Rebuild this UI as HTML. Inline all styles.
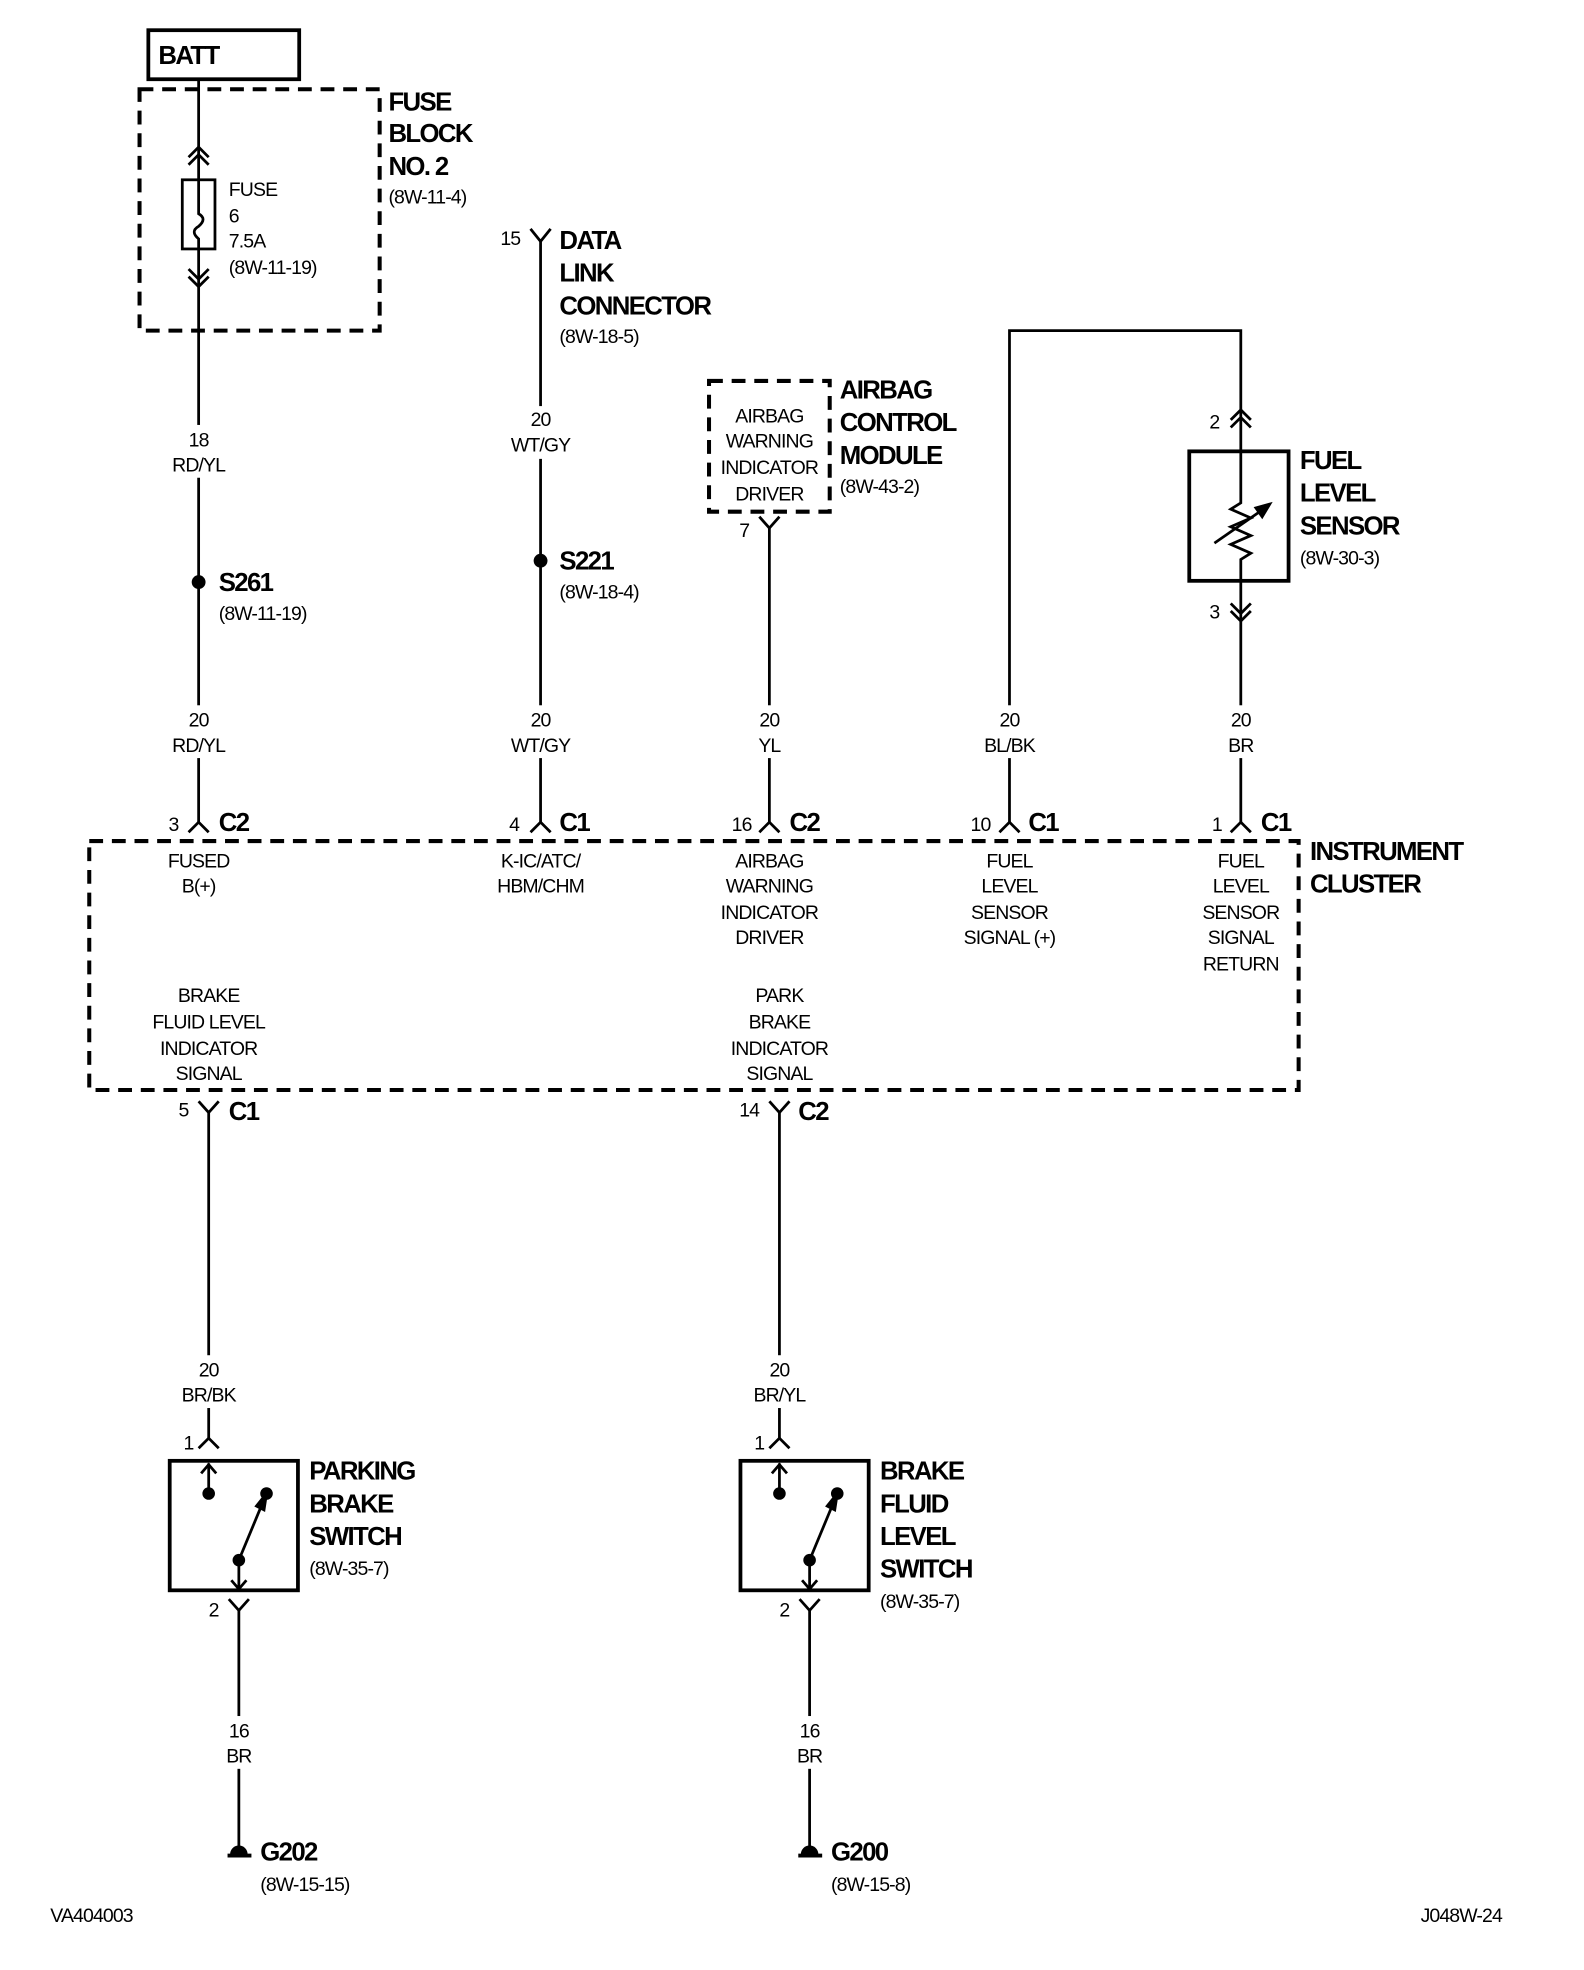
<!DOCTYPE html>
<html><head><meta charset="utf-8"><style>
html,body{margin:0;padding:0;background:#fff;}
svg{display:block;}
text{font-family:"Liberation Sans",Arial,sans-serif;fill:#000;}
.s{font-size:15.5px;letter-spacing:-0.7px;}
.b{font-size:20.5px;font-weight:bold;letter-spacing:-1.3px;}
.m{text-anchor:middle;}
</style></head><body>
<svg width="1584" height="1970" viewBox="0 0 1260 1567" xmlns="http://www.w3.org/2000/svg">
<g fill="none" stroke="#000" stroke-width="2.2">
<rect x="118" y="24" width="120" height="39" stroke-width="3"/>
<rect x="111" y="71" width="191" height="192" stroke-width="3.2" stroke-dasharray="11,7"/>
<line x1="158" y1="63" x2="158" y2="655"/>
<rect x="145" y="143" width="26" height="55" fill="#fff"/>
<path d="M158,143 V170 q7,4 0,10 q-7,4 0,10 V198"/>
<path d="M150,125 L158,117 L166,125 M150,131 L158,123 L166,131"/>
<path d="M150,214 L158,222 L166,214 M150,220 L158,228 L166,220"/>
<line x1="430" y1="192" x2="430" y2="655"/>
<path d="M422,182 L430,192 L438,182"/>
<rect x="564" y="303" width="96" height="104" stroke-width="3.2" stroke-dasharray="11,7"/>
<line x1="612" y1="420" x2="612" y2="655"/>
<path d="M604,411 L612,420 L620,411"/>
<path d="M803,655 V263 H987 V358"/>
<path d="M979,334 L987,326 L995,334 M979,340 L987,332 L995,340"/>
<rect x="946" y="359" width="79" height="103" stroke-width="3"/>
<path d="M987,359 V400 L979,405 L995,412 L979,419 L995,426 L979,433 L995,440 L987,445 V462"/>
<path d="M966,432 L1005,405"/>
<path d="M1010,401 L999,404 L1004,411 Z" fill="#000"/>
<line x1="987" y1="462" x2="987" y2="655"/>
<path d="M979,480 L987,488 L995,480 M979,486 L987,494 L995,486"/>
<path d="M150,662 L158,654 L166,662"/>
<path d="M422,662 L430,654 L438,662"/>
<path d="M604,662 L612,654 L620,662"/>
<path d="M795,662 L803,654 L811,662"/>
<path d="M979,662 L987,654 L995,662"/>
<rect x="71" y="669" width="962" height="198" stroke-width="3.2" stroke-dasharray="11,7"/>
<path d="M158,876 L166,885 L174,876"/>
<line x1="166" y1="885" x2="166" y2="1145"/>
<path d="M612,876 L620,885 L628,876"/>
<line x1="620" y1="885" x2="620" y2="1145"/>
<path d="M158,1152 L166,1144 L174,1152"/>
<rect x="135" y="1162" width="102" height="103" stroke-width="3"/>
<line x1="166" y1="1164" x2="166" y2="1188"/>
<path d="M160,1172 L166,1165 L172,1172"/>
<line x1="190" y1="1241" x2="212" y2="1188"/>
<path d="M212,1188 L204,1198 L210,1201 Z" fill="#000"/>
<line x1="190" y1="1241" x2="190" y2="1264"/>
<path d="M184,1257 L190,1264 L196,1257"/>
<path d="M182,1272 L190,1281 L198,1272"/>
<line x1="190" y1="1281" x2="190" y2="1470"/>
<line x1="181" y1="1476" x2="200" y2="1476" stroke-width="3"/>
<path d="M612,1152 L620,1144 L628,1152"/>
<rect x="589" y="1162" width="102" height="103" stroke-width="3"/>
<line x1="620" y1="1164" x2="620" y2="1188"/>
<path d="M614,1172 L620,1165 L626,1172"/>
<line x1="644" y1="1241" x2="666" y2="1188"/>
<path d="M666,1188 L658,1198 L664,1201 Z" fill="#000"/>
<line x1="644" y1="1241" x2="644" y2="1264"/>
<path d="M638,1257 L644,1264 L650,1257"/>
<path d="M636,1272 L644,1281 L652,1272"/>
<line x1="644" y1="1281" x2="644" y2="1470"/>
<line x1="635" y1="1476" x2="654" y2="1476" stroke-width="3"/>
</g>
<g fill="#fff">
<rect x="128" y="338" width="60" height="42"/>
<rect x="128" y="561" width="60" height="42"/>
<rect x="400" y="323" width="60" height="42"/>
<rect x="400" y="561" width="60" height="42"/>
<rect x="582" y="561" width="60" height="42"/>
<rect x="773" y="561" width="60" height="42"/>
<rect x="957" y="561" width="60" height="42"/>
<rect x="136" y="1078" width="60" height="42"/>
<rect x="590" y="1078" width="60" height="42"/>
<rect x="160" y="1365" width="60" height="42"/>
<rect x="614" y="1365" width="60" height="42"/>
</g>
<g fill="#000">
<circle cx="158" cy="463" r="5.5"/>
<circle cx="430" cy="446" r="5.5"/>
<circle cx="166" cy="1188" r="5"/><circle cx="212" cy="1188" r="5"/><circle cx="190" cy="1241" r="5"/>
<circle cx="620" cy="1188" r="5"/><circle cx="666" cy="1188" r="5"/><circle cx="644" cy="1241" r="5"/>
<path d="M183,1475 a7,7 0 0 1 14,0 Z"/>
<path d="M637,1475 a7,7 0 0 1 14,0 Z"/>
</g>
<text class="b" x="126" y="51">BATT</text>
<text class="b" x="309" y="88">FUSE</text>
<text class="b" x="309" y="113">BLOCK</text>
<text class="b" x="309" y="139">NO. 2</text>
<text class="s" x="309" y="162">(8W-11-4)</text>
<text class="s" x="182" y="156">FUSE</text>
<text class="s" x="182" y="177">6</text>
<text class="s" x="182" y="197">7.5A</text>
<text class="s" x="182" y="218">(8W-11-19)</text>
<text class="s m" x="158" y="355">18</text>
<text class="s m" x="158" y="375">RD/YL</text>
<text class="b" x="174" y="470">S261</text>
<text class="s" x="174" y="493">(8W-11-19)</text>
<text class="s m" x="158" y="578">20</text>
<text class="s m" x="158" y="598">RD/YL</text>
<text class="s" x="398" y="195">15</text>
<text class="b" x="445" y="198">DATA</text>
<text class="b" x="445" y="224">LINK</text>
<text class="b" x="445" y="250">CONNECTOR</text>
<text class="s" x="445" y="273">(8W-18-5)</text>
<text class="s m" x="430" y="339">20</text>
<text class="s m" x="430" y="359">WT/GY</text>
<text class="b" x="445" y="453">S221</text>
<text class="s" x="445" y="476">(8W-18-4)</text>
<text class="s m" x="430" y="578">20</text>
<text class="s m" x="430" y="598">WT/GY</text>
<text class="s m" x="612" y="336">AIRBAG</text>
<text class="s m" x="612" y="356">WARNING</text>
<text class="s m" x="612" y="377">INDICATOR</text>
<text class="s m" x="612" y="398">DRIVER</text>
<text class="b" x="668" y="317">AIRBAG</text>
<text class="b" x="668" y="343">CONTROL</text>
<text class="b" x="668" y="369">MODULE</text>
<text class="s" x="668" y="392">(8W-43-2)</text>
<text class="s" x="588" y="427">7</text>
<text class="s m" x="612" y="578">20</text>
<text class="s m" x="612" y="598">YL</text>
<text class="s" x="962" y="341">2</text>
<text class="b" x="1034" y="373">FUEL</text>
<text class="b" x="1034" y="399">LEVEL</text>
<text class="b" x="1034" y="425">SENSOR</text>
<text class="s" x="1034" y="449">(8W-30-3)</text>
<text class="s" x="962" y="492">3</text>
<text class="s m" x="803" y="578">20</text>
<text class="s m" x="803" y="598">BL/BK</text>
<text class="s m" x="987" y="578">20</text>
<text class="s m" x="987" y="598">BR</text>
<text class="s" x="134" y="661">3</text><text class="b" x="174" y="661">C2</text>
<text class="s" x="405" y="661">4</text><text class="b" x="445" y="661">C1</text>
<text class="s" x="582" y="661">16</text><text class="b" x="628" y="661">C2</text>
<text class="s" x="772" y="661">10</text><text class="b" x="818" y="661">C1</text>
<text class="s" x="964" y="661">1</text><text class="b" x="1003" y="661">C1</text>
<text class="b" x="1042" y="684">INSTRUMENT</text>
<text class="b" x="1042" y="710">CLUSTER</text>
<text class="s m" x="158" y="690">FUSED</text>
<text class="s m" x="158" y="710">B(+)</text>
<text class="s m" x="430" y="690">K-IC/ATC/</text>
<text class="s m" x="430" y="710">HBM/CHM</text>
<text class="s m" x="612" y="690">AIRBAG</text>
<text class="s m" x="612" y="710">WARNING</text>
<text class="s m" x="612" y="731">INDICATOR</text>
<text class="s m" x="612" y="751">DRIVER</text>
<text class="s m" x="803" y="690">FUEL</text>
<text class="s m" x="803" y="710">LEVEL</text>
<text class="s m" x="803" y="731">SENSOR</text>
<text class="s m" x="803" y="751">SIGNAL (+)</text>
<text class="s m" x="987" y="690">FUEL</text>
<text class="s m" x="987" y="710">LEVEL</text>
<text class="s m" x="987" y="731">SENSOR</text>
<text class="s m" x="987" y="751">SIGNAL</text>
<text class="s m" x="987" y="772">RETURN</text>
<text class="s m" x="166" y="797">BRAKE</text>
<text class="s m" x="166" y="818">FLUID LEVEL</text>
<text class="s m" x="166" y="839">INDICATOR</text>
<text class="s m" x="166" y="859">SIGNAL</text>
<text class="s m" x="620" y="797">PARK</text>
<text class="s m" x="620" y="818">BRAKE</text>
<text class="s m" x="620" y="839">INDICATOR</text>
<text class="s m" x="620" y="859">SIGNAL</text>
<text class="s" x="142" y="888">5</text><text class="b" x="182" y="891">C1</text>
<text class="s" x="588" y="888">14</text><text class="b" x="635" y="891">C2</text>
<text class="s m" x="166" y="1095">20</text>
<text class="s m" x="166" y="1115">BR/BK</text>
<text class="s m" x="620" y="1095">20</text>
<text class="s m" x="620" y="1115">BR/YL</text>
<text class="s" x="146" y="1153">1</text>
<text class="s" x="600" y="1153">1</text>
<text class="b" x="246" y="1177">PARKING</text>
<text class="b" x="246" y="1203">BRAKE</text>
<text class="b" x="246" y="1229">SWITCH</text>
<text class="s" x="246" y="1253">(8W-35-7)</text>
<text class="b" x="700" y="1177">BRAKE</text>
<text class="b" x="700" y="1203">FLUID</text>
<text class="b" x="700" y="1229">LEVEL</text>
<text class="b" x="700" y="1255">SWITCH</text>
<text class="s" x="700" y="1279">(8W-35-7)</text>
<text class="s" x="166" y="1286">2</text>
<text class="s" x="620" y="1286">2</text>
<text class="s m" x="190" y="1382">16</text>
<text class="s m" x="190" y="1402">BR</text>
<text class="s m" x="644" y="1382">16</text>
<text class="s m" x="644" y="1402">BR</text>
<text class="b" x="207" y="1480">G202</text>
<text class="s" x="207" y="1504">(8W-15-15)</text>
<text class="b" x="661" y="1480">G200</text>
<text class="s" x="661" y="1504">(8W-15-8)</text>
<text class="s" x="40" y="1529">VA404003</text>
<text class="s" x="1130" y="1529">J048W-24</text>
</svg>
</body></html>
